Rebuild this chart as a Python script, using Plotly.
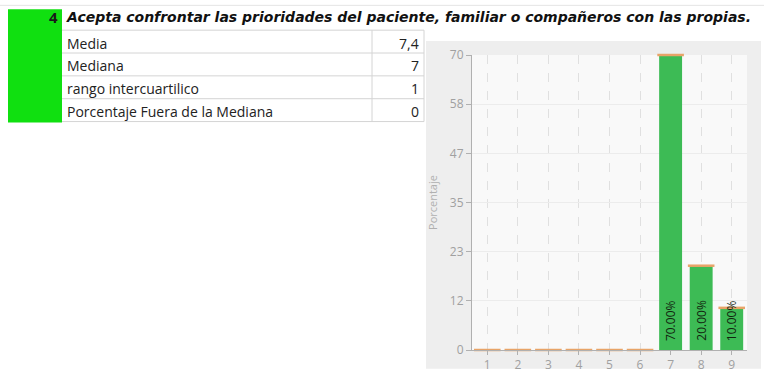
import plotly.graph_objects as go

# ---- data ----
categories = [1, 2, 3, 4, 5, 6, 7, 8, 9]
percentages = [0, 0, 0, 0, 0, 0, 70, 20, 10]
bar_labels = ["", "", "", "", "", "", "70.00%", "20.00%", "10.00%"]
tick_vals = [0, 70/6, 140/6, 35, 280/6, 350/6, 70]
tick_text = ["0", "12", "23", "35", "47", "58", "70"]

item_number = "4"
item_title = "Acepta confrontar las prioridades del paciente, familiar o compañeros con las propias."
stat_names = ["Media", "Mediana", "rango intercuartilico", "Porcentaje Fuera de la Mediana"]
stat_values = ["7,4", "7", "1", "0"]

W, H = 764, 385
L, R, T, B = 472, 17, 55, 33
PW, PH = W - L - R, H - T - B

def px(x):
    return (x - L) / PW

def py(y):
    return 1 - (y - T) / PH

fig = go.Figure()

fig.add_trace(go.Bar(
    x=categories, y=percentages, width=0.75,
    marker=dict(color="#3dbb55", line=dict(width=0)),
    hoverinfo="skip", showlegend=False,
))
# orange caps on bar tops
fig.add_trace(go.Scatter(
    x=categories, y=percentages, mode="markers",
    marker=dict(symbol="line-ew", size=19, line=dict(color="#e8a468", width=2.5)),
    hoverinfo="skip", showlegend=False, cliponaxis=False,
))

annotations = []
for c, v, t in zip(categories, percentages, bar_labels):
    if t:
        annotations.append(dict(x=c, y=0, xref="x", yref="y", text=t, textangle=-90,
                                showarrow=False, yanchor="bottom", xanchor="center",
                                yshift=7, font=dict(family="Open Sans", size=12, color="#12240f")))

shapes = []
# chart panel background
shapes.append(dict(type="rect", xref="paper", yref="paper", layer="below",
                   x0=px(426), x1=px(761), y0=py(371), y1=py(41),
                   fillcolor="#eeeeee", line=dict(width=0)))
shapes.append(dict(type="rect", xref="paper", yref="paper", layer="below",
                   x0=0, x1=1, y0=0, y1=1, fillcolor="#f9f9f9", line=dict(width=0)))
# green cell
shapes.append(dict(type="rect", xref="paper", yref="paper",
                   x0=px(8), x1=px(62), y0=py(123), y1=py(9),
                   fillcolor="#10e010", line=dict(width=0)))
# table lines
for yy in [30, 53, 76, 99, 122]:
    shapes.append(dict(type="line", xref="paper", yref="paper",
                       x0=px(62), x1=px(424), y0=py(yy), y1=py(yy),
                       line=dict(color="#d4d4d4", width=1)))
shapes.append(dict(type="line", xref="paper", yref="paper",
                   x0=px(0), x1=px(764), y0=py(5), y1=py(5),
                   line=dict(color="#e4e4e4", width=1)))
for xx in [372, 424]:
    shapes.append(dict(type="line", xref="paper", yref="paper",
                       x0=px(xx), x1=px(xx), y0=py(30), y1=py(122),
                       line=dict(color="#d4d4d4", width=1)))

tfont = "Open Sans"
annotations.append(dict(x=px(60), y=py(17), xref="paper", yref="paper", text="<b>" + item_number + "</b>",
                        showarrow=False, xanchor="right", yanchor="middle",
                        font=dict(family=tfont, size=15, color="#1a1a1a")))
annotations.append(dict(x=px(64), y=py(17), xref="paper", yref="paper", text="<b><i>" + item_title + "</i></b>",
                        showarrow=False, xanchor="left", yanchor="middle",
                        font=dict(family="DejaVu Sans", size=14, color="#111111")))
row_y = [43, 66, 89, 112]
for name, val, yy in zip(stat_names, stat_values, row_y):
    annotations.append(dict(x=px(65), y=py(yy), xref="paper", yref="paper", text=name,
                            showarrow=False, xanchor="left", yanchor="middle",
                            font=dict(family=tfont, size=14, color="#222222")))
    annotations.append(dict(x=px(421), y=py(yy), xref="paper", yref="paper", text=val,
                            showarrow=False, xanchor="right", yanchor="middle",
                            font=dict(family=tfont, size=14, color="#222222")))

fig.update_layout(
    width=W, height=H, autosize=False,
    margin=dict(l=L, r=R, t=T, b=B),
    paper_bgcolor="white", plot_bgcolor="rgba(0,0,0,0)",
    bargap=0.25,
    shapes=shapes, annotations=annotations,
    xaxis=dict(range=[0.5, 9.5], tickvals=categories, ticktext=[str(c) for c in categories],
               showline=True, linecolor="#b0b0b0", linewidth=1, ticks="outside", ticklen=4,
               tickcolor="#b0b0b0", tickfont=dict(family="Open Sans", size=12, color="#a0a0a0"),
               showgrid=True, gridcolor="#e0e0e0", griddash="dash", gridwidth=1, zeroline=False,
               fixedrange=True),
    yaxis=dict(range=[0, 70], tickvals=tick_vals, ticktext=tick_text,
               showline=True, linecolor="#b0b0b0", linewidth=1, ticks="outside", ticklen=5,
               tickcolor="#b0b0b0", tickfont=dict(family="Open Sans", size=12, color="#a0a0a0"),
               showgrid=True, gridcolor="#ececec", gridwidth=1, zeroline=False,
               title=dict(text="Porcentaje", font=dict(family="Open Sans", size=11, color="#b0b0b0"),
                          standoff=10),
               fixedrange=True),
)

fig.write_html("out.html", config=dict(displayModeBar=False, responsive=False),
               post_script="document.body.style.margin='0';document.body.style.overflow='hidden';")
